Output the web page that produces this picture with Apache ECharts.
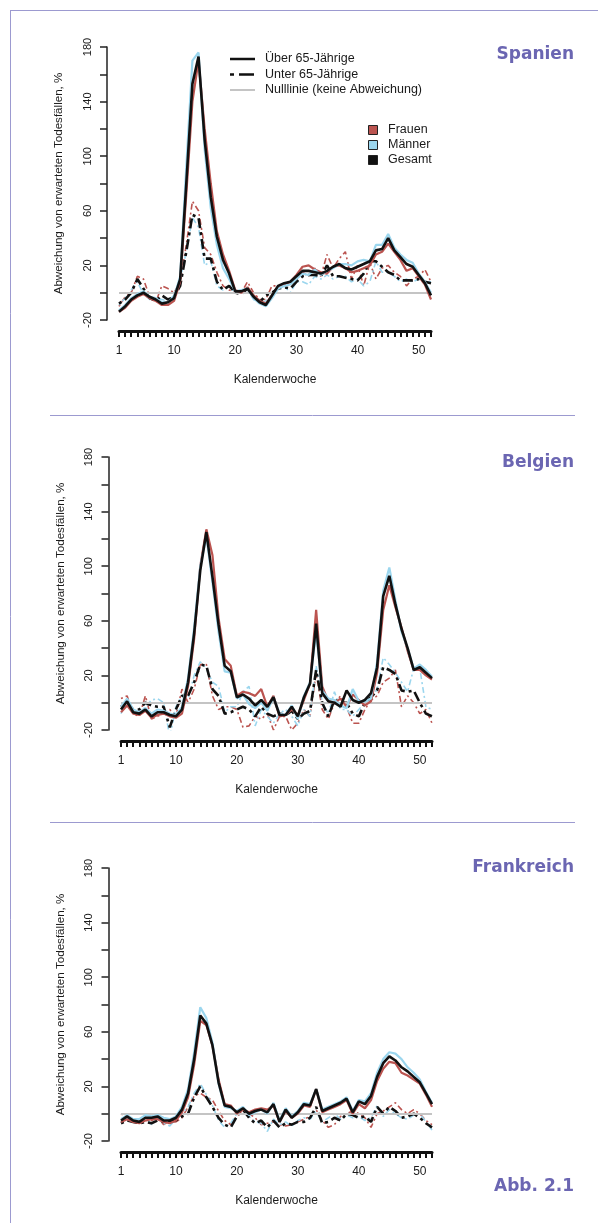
<!DOCTYPE html>
<html>
<head>
<meta charset="utf-8">
<title>Abb. 2.1</title>
<script src="https://cdn.jsdelivr.net/npm/echarts@6/dist/echarts.min.js"></script>
<style>
  html, body { margin: 0; padding: 0; background: #fff; }
  #main { width: 598px; height: 1223px; }
</style>
</head>
<body>
<div id="main"></div>
<script>
// Kalenderwochen
var weeks = [1, 2, 3, 4, 5, 6, 7, 8, 9, 10, 11, 12, 13, 14, 15, 16, 17, 18, 19, 20,
  21, 22, 23, 24, 25, 26, 27, 28, 29, 30, 31, 32, 33, 34, 35, 36, 37, 38, 39, 40,
  41, 42, 43, 44, 45, 46, 47, 48, 49, 50, 51, 52];
var xLabelWeeks = [1, 10, 20, 30, 40, 50];
var yLabelValues = [-20, 20, 60, 100, 140, 180];
var countries = ['Spanien', 'Belgien', 'Frankreich'];

// Spanien
var esUeberFrauen = [-14, -11, -6, -3, -1, -4, -6, -9, -9, -6, 8, 72, 140, 170, 120, 80, 45, 28, 16, 2,
  0, 4, -2, -6, -8, -2, 4, 6, 8, 13, 19, 20, 17, 15, 14, 19, 20, 18, 15, 16,
  18, 20, 28, 30, 36, 30, 24, 16, 18, 12, 6, -5];
var esUeberMaenner = [-13, -9, -4, -1, 1, -3, -4, -7, -7, -3, 12, 92, 170, 176, 105, 62, 35, 18, 10, 1,
  2, 3, -4, -8, -10, -4, 3, 5, 6, 10, 14, 13, 17, 13, 16, 18, 21, 21, 20, 23,
  24, 23, 35, 35, 43, 33, 28, 24, 22, 14, 8, 0];
var esUeberGesamt = [-14, -10, -5, -2, 0, -3, -5, -8, -7, -4, 10, 80, 153, 173, 112, 70, 41, 24, 14, 1,
  1, 3, -3, -7, -9, -2, 5, 7, 8, 12, 16, 16, 15, 14, 16, 19, 21, 18, 17, 19,
  21, 23, 31, 32, 40, 31, 26, 21, 19, 13, 7, -2];
var esUnterFrauen = [-10, -3, 0, 12, 10, -3, -7, 5, 3, 0, 8, 35, 67, 60, 33, 28, 15, 5, 2, 0,
  0, 8, 0, -5, -5, 5, 5, 6, 6, 10, 15, 12, 18, 12, 28, 18, 25, 30, 10, 20,
  5, 22, 10, 18, 20, 15, 12, 5, 10, 12, 17, 8];
var esUnterMaenner = [-9, -4, 2, 8, -1, -5, -4, -5, -6, -2, 10, 30, 55, 48, 20, 23, 5, 2, 5, 0,
  0, 2, -5, -8, -6, -2, 3, 5, 0, 8, 8, 6, 12, 10, 13, 10, 12, 12, 8, 10,
  5, 8, 23, 15, 15, 12, 8, 10, 8, 10, 8, 8];
var esUnterGesamt = [-8, -5, 0, 10, 3, -4, -6, -2, -5, -3, 5, 30, 57, 55, 25, 25, 8, 2, 5, 0,
  -1, 3, -3, -7, -2, 0, 3, 4, 3, 8, 12, 13, 13, 12, 20, 12, 12, 11, 10, 9,
  14, 23, 23, 19, 15, 13, 9, 9, 9, 10, 8, 7];

// Belgien
var beUeberFrauen = [-7, -2, -8, -9, -6, -11, -9, -8, -10, -11, -8, 12, 47, 100, 127, 108, 62, 32, 27, 5,
  8, 7, 5, 10, -3, 5, -10, -9, -5, -9, 2, 14, 68, 12, 1, 0, 3, -3, 6, 2,
  -2, 1, 22, 68, 86, 70, 55, 38, 24, 24, 20, 17];
var beUeberMaenner = [-3, 3, -5, -7, -4, -8, -5, -6, -8, -9, -3, 18, 55, 100, 122, 88, 52, 23, 22, 3,
  6, -1, -4, 0, -6, 4, -8, -9, -2, -12, 5, 15, 52, 9, 3, 2, -2, -4, 10, 1,
  1, 3, 30, 82, 99, 75, 52, 40, 25, 28, 24, 19];
var beUeberGesamt = [-5, 1, -7, -8, -5, -10, -7, -7, -9, -10, -5, 15, 51, 97, 125, 92, 57, 27, 23, 4,
  6, 3, -2, 2, -3, 4, -9, -9, -3, -10, 4, 14, 58, 7, 1, 0, -3, 9, 2, 0,
  2, 7, 26, 78, 93, 72, 54, 40, 24, 26, 22, 18];
var beUnterFrauen = [3, 5, -8, -10, 5, -12, -10, -8, -5, -10, 10, 0, 10, 28, 28, 5, -5, -3, -3, -5,
  -18, -17, -10, -12, -8, -20, -10, -10, -20, -15, -5, -10, 22, -5, -12, 0, 5, -3, -15, -15,
  -5, 2, 5, 15, 18, 24, -3, 5, 0, -8, -5, -15];
var beUnterMaenner = [-8, 3, -5, -8, -3, 2, 3, 0, -25, -3, 5, 3, 20, 30, 25, 15, 12, -7, -3, -3,
  8, 12, -17, -5, -10, -15, -8, -5, -10, -17, -5, -10, 27, 0, -8, 8, -5, -5, -10, -5,
  0, 3, 10, 33, 28, 22, 15, 8, 25, 25, -3, -5];
var beUnterGesamt = [-3, 0, -5, -5, 0, -2, -3, -3, -18, -5, 5, 5, 15, 28, 27, 10, 5, -8, -7, -5,
  -3, -5, -10, -3, -8, -10, -8, -9, -6, -12, -8, -6, 24, 0, -10, 2, 0, 0, -8, -10,
  0, 4, 9, 26, 24, 21, 9, 8, 9, 0, -8, -10];

// Frankreich
var frUeberFrauen = [-6, -4, -6, -7, -5, -4, -4, -6, -7, -5, 1, 12, 36, 68, 65, 50, 25, 7, 6, 0,
  3, 1, 3, 4, 3, 6, -6, 2, -3, 0, 6, 5, 18, 1, 3, 5, 7, 10, 0, 7,
  4, 10, 24, 33, 38, 37, 30, 28, 25, 22, 14, 5];
var frUeberMaenner = [-4, -1, -4, -4, -1, -2, -1, -3, -4, -2, 5, 18, 45, 78, 70, 52, 22, 5, 4, 2,
  5, -1, 1, 3, 0, 8, -5, 4, -2, 2, 8, 7, 18, 3, 5, 7, 9, 12, 2, 10,
  9, 15, 30, 40, 45, 44, 40, 34, 30, 25, 16, 8];
var frUeberGesamt = [-5, -2, -5, -6, -3, -3, -2, -5, -5, -3, 3, 15, 40, 72, 66, 50, 23, 6, 5, 1,
  4, 0, 2, 3, 1, 7, -6, 3, -3, 1, 7, 6, 18, 2, 4, 6, 8, 11, 1, 9,
  7, 13, 27, 37, 42, 39, 34, 31, 27, 23, 15, 7];
var frUnterFrauen = [0, -3, -6, -7, -5, -5, -3, -8, -5, -6, -3, 5, 13, 15, 12, 10, 2, -5, -8, -2,
  3, 0, -3, -8, -7, -6, -8, -9, -8, -6, -4, -2, 3, -5, -10, -8, -2, 0, 2, 0,
  -3, -10, 0, 2, 5, 8, 3, 0, 3, 0, -5, -8];
var frUnterMaenner = [-6, -3, -5, -6, -2, -8, -3, -7, -9, -4, 0, 5, 15, 22, 14, 6, -5, -10, -7, 0,
  5, -2, -6, -7, -13, -4, -8, -6, -9, -5, -3, -4, 2, -6, -3, 0, -4, -1, -3, -2,
  -5, -3, 6, -2, 3, 0, -3, -4, -1, 0, -6, -12];
var frUnterGesamt = [-7, -5, -6, -7, -6, -7, -5, -6, -6, -5, -2, 0, 12, 20, 12, 5, -3, -8, -10, -2,
  3, -3, -7, -5, -10, -5, -10, -7, -8, -6, -6, -3, 5, -7, -6, -3, -5, 0, -1, -3,
  -2, -6, 5, 0, 5, 2, -3, -2, 0, -3, -7, -10];

var panelData = [
  [esUnterFrauen, esUnterMaenner, esUnterGesamt, esUeberFrauen, esUeberMaenner, esUeberGesamt],
  [beUnterFrauen, beUnterMaenner, beUnterGesamt, beUeberFrauen, beUeberMaenner, beUeberGesamt],
  [frUnterFrauen, frUnterMaenner, frUnterGesamt, frUeberFrauen, frUeberMaenner, frUeberGesamt]
];

// Farben / Linienarten
var cFrauen = '#bb5450';
var cMaenner = '#9bd6ee';
var cGesamt = '#111111';
var cNull = '#c4c4c4';
var cTitle = '#6b66b2';
var cFrame = '#9c9ad0';
var dashColor = [2, 3, 6, 3];
var dashBlack = [3, 4, 10, 4];
var font = 'Liberation Sans, Arial, sans-serif';

// Lage der drei Diagramme (px)
var panels = [
  { left: 119, top: 47, width: 312, height: 273, yOff: 12, xOff: 11 },
  { left: 121, top: 457, width: 311, height: 273, yOff: 12.5, xOff: 11 },
  { left: 121, top: 868, width: 311, height: 273, yOff: 12.5, xOff: 11 }
];

var chart = echarts.init(document.getElementById('main'));

var grids = [], xAxes = [], yAxes = [], series = [];

panels.forEach(function (p, i) {
  grids.push({ left: p.left, top: p.top, width: p.width, height: p.height });

  xAxes.push({
    gridIndex: i, type: 'value', min: 1, max: 52, interval: 1,
    position: 'bottom', offset: p.xOff,
    axisLine: { show: true, onZero: false, lineStyle: { color: '#111', width: 3 } },
    axisTick: { show: true, length: 6, lineStyle: { color: '#111', width: 2 } },
    axisLabel: {
      margin: 14, fontSize: 12, color: '#1a1a1a', fontFamily: font,
      formatter: function (v) { return xLabelWeeks.indexOf(v) >= 0 ? String(v) : ''; }
    },
    splitLine: { show: false },
    name: 'Kalenderwoche', nameLocation: 'middle', nameGap: 43,
    nameTextStyle: { fontSize: 12, color: '#1a1a1a', fontFamily: font }
  });

  yAxes.push({
    gridIndex: i, type: 'value', min: -20, max: 180, interval: 20,
    position: 'left', offset: p.yOff,
    axisLine: { show: true, onZero: false, lineStyle: { color: '#222', width: 1.5 } },
    axisTick: { show: true, length: 7, lineStyle: { color: '#222', width: 1.5 } },
    axisLabel: {
      rotate: 90, margin: 14, fontSize: 11, color: '#1a1a1a', fontFamily: font,
      formatter: function (v) { return yLabelValues.indexOf(v) >= 0 ? String(v) : ''; }
    },
    splitLine: { show: false },
    name: 'Abweichung von erwarteten Todesfällen, %', nameLocation: 'middle',
    nameRotate: 90, nameGap: 42,
    nameTextStyle: { fontSize: 11.6, color: '#1a1a1a', fontFamily: font }
  });

  // Nulllinie
  series.push({
    type: 'line', xAxisIndex: i, yAxisIndex: i, data: [], silent: true, z: 1,
    markLine: {
      silent: true, symbol: 'none', label: { show: false },
      lineStyle: { color: cNull, width: 2, type: 'solid' },
      data: [{ yAxis: 0 }]
    }
  });

  var d = panelData[i];
  var styles = [
    { color: cFrauen, width: 1.6, type: dashColor },
    { color: cMaenner, width: 1.6, type: dashColor },
    { color: cGesamt, width: 2.6, type: dashBlack },
    { color: cFrauen, width: 2.2, type: 'solid' },
    { color: cMaenner, width: 2.2, type: 'solid' },
    { color: cGesamt, width: 2.6, type: 'solid' }
  ];
  d.forEach(function (values, k) {
    series.push({
      type: 'line', xAxisIndex: i, yAxisIndex: i, silent: true, z: 2 + k,
      symbol: 'none',
      lineStyle: styles[k],
      data: weeks.map(function (w, j) { return [w, values[j]]; })
    });
  });
});

// Rahmen, Trennlinien, Titel, Legende
var graphic = [
  { type: 'line', shape: { x1: 10, y1: 10.5, x2: 598, y2: 10.5 }, style: { stroke: cFrame, lineWidth: 1 } },
  { type: 'line', shape: { x1: 10.5, y1: 10, x2: 10.5, y2: 1223 }, style: { stroke: cFrame, lineWidth: 1 } },
  { type: 'line', shape: { x1: 50, y1: 415.5, x2: 575, y2: 415.5 }, style: { stroke: cFrame, lineWidth: 1 } },
  { type: 'line', shape: { x1: 50, y1: 822.5, x2: 575, y2: 822.5 }, style: { stroke: cFrame, lineWidth: 1 } }
];

var titleY = [55, 463, 868];
countries.forEach(function (name, i) {
  graphic.push({
    type: 'text', x: 574, y: titleY[i],
    style: { text: name, fill: cTitle, font: 'bold 17px "DejaVu Sans", Verdana, sans-serif', textAlign: 'right', textVerticalAlign: 'middle' }
  });
});
graphic.push({
  type: 'text', x: 574, y: 1187,
  style: { text: 'Abb. 2.1', fill: cTitle, font: 'bold 17px "DejaVu Sans", Verdana, sans-serif', textAlign: 'right', textVerticalAlign: 'middle' }
});

// Legende Linienarten
var lineLegend = [
  { text: 'Über 65-Jährige', y: 59, stroke: cGesamt, w: 2.5, dash: null },
  { text: 'Unter 65-Jährige', y: 74.5, stroke: cGesamt, w: 2.5, dash: [4, 5, 15, 5] },
  { text: 'Nulllinie (keine Abweichung)', y: 90, stroke: cNull, w: 2, dash: null }
];
lineLegend.forEach(function (l) {
  graphic.push({ type: 'line', shape: { x1: 230, y1: l.y, x2: 255, y2: l.y }, style: { stroke: l.stroke, lineWidth: l.w, lineDash: l.dash } });
  graphic.push({ type: 'text', x: 265, y: l.y, style: { text: l.text, fill: '#1a1a1a', font: '12.5px ' + font, textVerticalAlign: 'middle' } });
});

// Legende Farben
var colorLegend = [
  { text: 'Frauen', y: 130, fill: cFrauen },
  { text: 'Männer', y: 145, fill: cMaenner },
  { text: 'Gesamt', y: 160, fill: cGesamt }
];
colorLegend.forEach(function (l) {
  graphic.push({ type: 'rect', shape: { x: 368.5, y: l.y - 4.5, width: 9, height: 9 }, style: { fill: l.fill, stroke: '#222', lineWidth: 1 } });
  graphic.push({ type: 'text', x: 388, y: l.y, style: { text: l.text, fill: '#1a1a1a', font: '12.5px ' + font, textVerticalAlign: 'middle' } });
});

var option = {
  backgroundColor: '#ffffff',
  animation: false,
  grid: grids,
  xAxis: xAxes,
  yAxis: yAxes,
  series: series,
  graphic: graphic
};

chart.setOption(option);
</script>
</body>
</html>
